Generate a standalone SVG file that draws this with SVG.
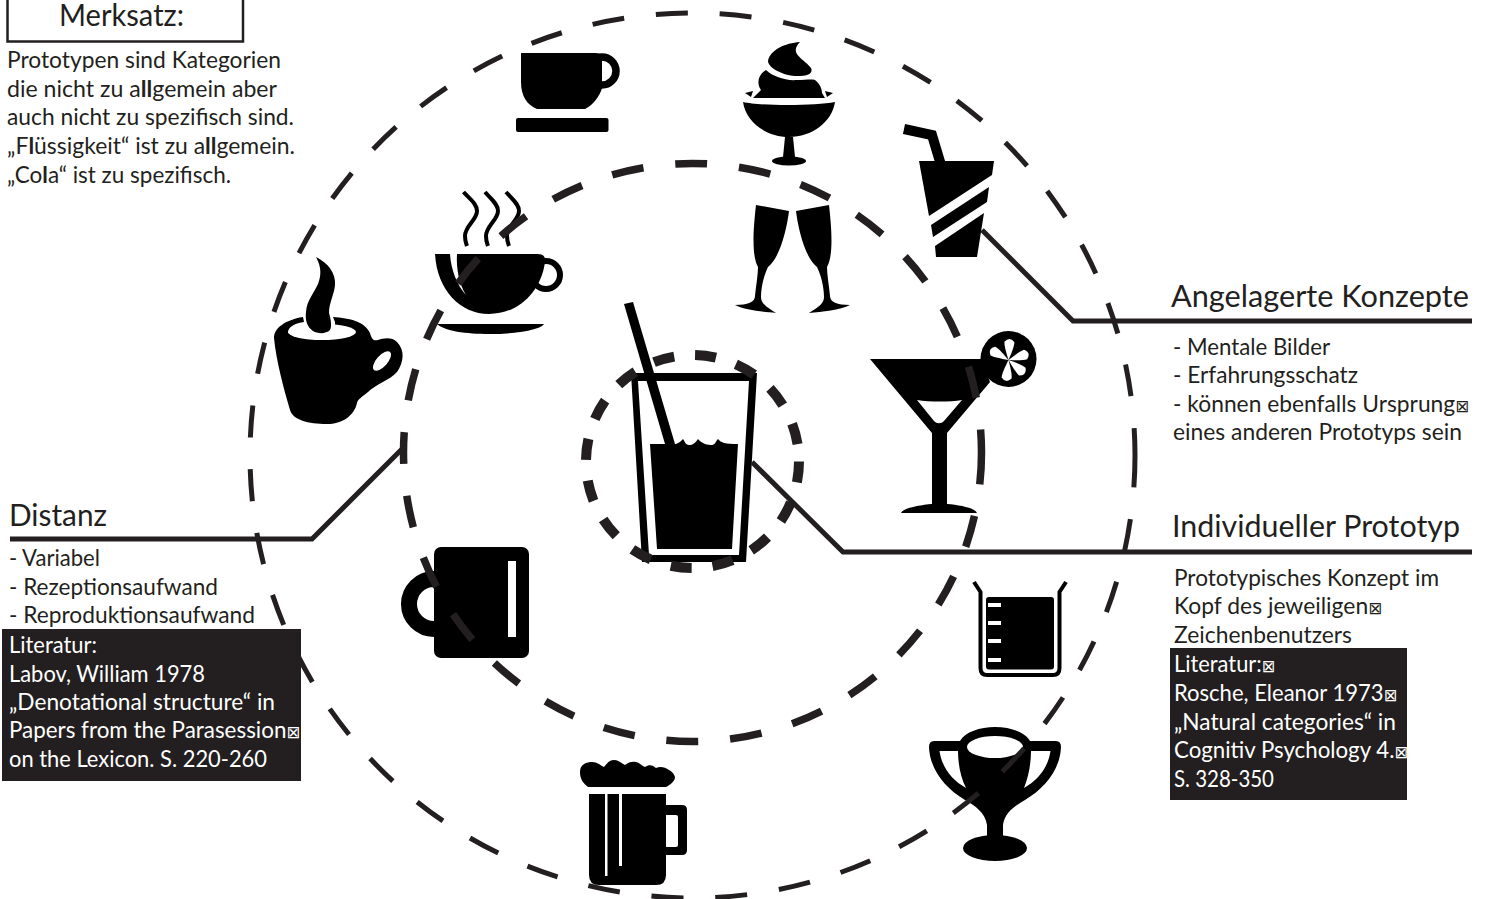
<svg xmlns="http://www.w3.org/2000/svg" width="1488" height="899" viewBox="0 0 1488 899">
<style>
text{font-family:"Lato","Open Sans","DejaVu Sans",sans-serif;fill:#231f20}
.b{font-size:23.5px}
.h{font-size:31px}
.w{font-size:23.5px;fill:#fff}
.t{font-family:"DejaVu Sans",sans-serif;font-size:17px}
.l{font-weight:700}
.k{fill:#000}
.wf{fill:#fff}
.lead{fill:none;stroke:#231f20;stroke-width:5;stroke-linejoin:miter}
.ring{fill:none;stroke:#231f20}
.box{fill:#231f20}
</style>
<rect width="1488" height="899" fill="#fff"/>

<g id="note">
<rect x="7.500" y="-10" width="235.500" height="51.500" fill="#fff" stroke="#231f20" stroke-width="2.500"/>
<text class="h" x="59" y="26" textLength="125" lengthAdjust="spacingAndGlyphs">Merksatz:</text>
<text class="b" x="7" y="68" textLength="274" lengthAdjust="spacingAndGlyphs">Prototypen sind Kategorien</text>
<text class="b" x="7" y="96.500" textLength="270" lengthAdjust="spacingAndGlyphs">die nicht zu a<tspan class="l">ll</tspan>gemein aber</text>
<text class="b" x="7" y="125" textLength="287" lengthAdjust="spacingAndGlyphs">auch nicht zu spezifisch sind.</text>
<text class="b" x="7" y="154" textLength="288" lengthAdjust="spacingAndGlyphs">„F<tspan class="l">l</tspan>üssigkeit“ ist zu a<tspan class="l">ll</tspan>gemein.</text>
<text class="b" x="7" y="182.500" textLength="224" lengthAdjust="spacingAndGlyphs">„Co<tspan class="l">l</tspan>a“ ist zu spezifisch.</text>
</g>

<g id="cup-saucer">
<circle cx="602" cy="71" r="14" fill="none" stroke="#000" stroke-width="7.500"/>
<path class="k" d="M521 53H596Q602 53 602 59V88C600 96 593 105 585 109H537C527 105 521 96 521 82Z"/>
<rect class="k" x="516" y="118" width="92.500" height="14" rx="2"/>
</g>

<g id="ice-cream">
<path class="k" d="M800 42C785 43 770 50 768 61C768 68 785 77 800 76C810 76 813 72 811 68C805 60 794 56 796 48C797 45 799 43 800 42Z"/>
<path class="k" d="M766 70C772 76 785 81 797 80C805 80 812 79 815 80C821 85 822 90 822 93L825 98H753L761 90C757 85 757 75 766 70Z"/>
<path class="k" d="M745 93L753 91L751 97ZM833 93L825 91L827 97Z"/>
<path class="k" d="M743 102C760 106 815 106 835 102C832 122 812 137 789 137C766 137 746 122 743 102Z"/>
<path class="k" d="M785 137H793L795 157H783Z"/>
<ellipse class="k" cx="789" cy="161" rx="17" ry="4.500"/>
</g>

<g id="straw-cup">
<path d="M904 129L932 135L941 165" fill="none" stroke="#000" stroke-width="10"/>
<path class="k" d="M919 161H994L992 175L929 216Z"/>
<path class="k" d="M989 187L987 202L933 237L931 225Z"/>
<path class="k" d="M984 213L977 257H936L935 246Z"/>
</g>

<g id="steam-cup">
<g fill="none" stroke="#000" stroke-width="4">
<path d="M463.500 192C470 199 477 204 477 211C477 220 465 226 465 236C465 241 466 243 467 246"/>
<path d="M485 192C491 199 498 204 498 211C498 220 486 226 486 236C486 241 487 243 488 246"/>
<path d="M506 192C512 199 519 204 519 211C519 220 507 226 507 236C507 241 508 243 509 246"/>
</g>
<circle cx="546" cy="275" r="14" fill="none" stroke="#000" stroke-width="6"/>
<path class="k" d="M435 254H538Q546 254 545 262C541 292 518 314 489 314C460 314 437 290 435 254Z"/>
<path class="wf" d="M450 254H457C456 268 459 284 466 295C457 285 451 270 450 254Z"/>
<path class="k" d="M437 324H544C540 330 515 334 490 334C465 334 445 331 437 324Z"/>
</g>

<g id="espresso-cup">
<path class="k" d="M274 338C274 328 285 320 303 317L304 322C292 324 288 328 288 333L335 335V322L333 317C350 318 365 322 370 333C372 340 374 341 378 340C384 338 392 337 397 342C405 350 404 362 397 372C390 380 376 384 368 392C362 397 358 399 357 403C354 416 342 424 327 424C308 424 293 420 290 410C284 390 276 360 274 338Z"/>
<ellipse class="wf" cx="322" cy="332" rx="34" ry="8"/>
<ellipse class="wf" cx="382" cy="361" rx="12" ry="5.500" transform="rotate(-48 382 361)"/>
<path class="k" d="M316 257C328 263 336 273 335 285C334 295 329 303 329 313C331 320 332 326 330 330C326 334 318 334 313 331C307 327 305 320 306 312C307 300 313 295 318 284C321 276 322 268 316 257Z"/>
</g>

<g id="champagne">
<path class="k" d="M756 205L789 211C787 228 780 258 768 267C764 275 761 287 761 297C761 303 765 306 776 313C763 312 745 310 735 305C748 305 755 302 755 296C756 285 758 275 758 267C753 258 752 240 756 205Z"/>
<path class="k" d="M829 205L796 211C798 228 805 258 817 267C821 275 824 287 824 297C824 303 820 306 809 313C822 312 840 310 850 305C837 305 830 302 830 296C829 285 827 275 827 267C832 258 833 240 829 205Z"/>
</g>

<g id="martini">
<path class="k" d="M870 359H982L990 382L947 433V504C960 505 975 508 977 513H901C903 508 920 505 932 504V433Z"/>
<path class="wf" d="M917 400C930 402 950 402 962 400L944 421C941 424 937 424 934 421Z"/>
<circle class="k" cx="1008.500" cy="359" r="28"/>
<g class="wf" transform="translate(1008.500 360)">
<path d="M0 0C-3 -8 -5 -14 -5 -18Q0 -24 5 -18C5 -14 3 -8 0 0Z" transform="rotate(3)"/>
<path d="M0 0C-3 -8 -5 -14 -5 -18Q0 -24 5 -18C5 -14 3 -8 0 0Z" transform="rotate(72)"/>
<path d="M0 0C-3 -8 -5 -14 -5 -18Q0 -24 5 -18C5 -14 3 -8 0 0Z" transform="rotate(130)"/>
<path d="M0 0C-3 -8 -5 -14 -5 -18Q0 -24 5 -18C5 -14 3 -8 0 0Z" transform="rotate(186)"/>
<path d="M0 0C-3 -8 -5 -14 -5 -18Q0 -24 5 -18C5 -14 3 -8 0 0Z" transform="rotate(300)"/>
</g>
</g>

<g id="glass">
<path class="k" fill-rule="evenodd" d="M631 373H757L746 562H642ZM638 381L649 555H739L749 381Z"/>
<path class="k" d="M650 444H676C679 443 681 441 683 439C685 442 686 445 689 445C693 445 695 443 698 439C702 444 708 445 712 445C715 445 716 441 718 439C721 443 725 444 738 444L732 549H657Z"/>
<path class="k" d="M624 304L633 302L675 444H665Z"/>
</g>

<g id="mug">
<circle cx="434" cy="604" r="25" fill="none" stroke="#000" stroke-width="16"/>
<rect class="k" x="434" y="547" width="95" height="111" rx="7"/>
<rect class="wf" x="508" y="561" width="8" height="76"/>
</g>

<g id="beaker">
<path d="M974 582L980.500 592V668Q980.500 675 987 675H1053Q1059.500 675 1059.500 668V592L1066 582" fill="none" stroke="#000" stroke-width="4"/>
<rect class="k" x="986" y="597" width="68" height="72.500" rx="3"/>
<g class="wf"><rect x="988" y="603" width="13" height="4"/><rect x="988" y="621" width="13" height="4"/><rect x="988" y="639" width="13" height="4"/><rect x="988" y="658" width="13" height="4"/></g>
</g>

<g id="beer">
<path class="k" d="M588 787C582 782 580 778 580 772C580 764 587 762 592 762C597 762 600 765 604 767C607 763 610 760 614 760C618 760 621 763 625 765C629 762 632 761 636 762C640 763 642 766 645 767C649 764 653 765 656 768C660 766 665 767 669 770C674 773 675 776 675 778C674 782 670 785 666 787Z"/>
<path class="k" d="M666 805H682Q687 805 687 810V850Q687 855 682 855H666V847H676Q678 847 678 845V817Q678 815 676 815H666Z"/>
<path class="k" d="M589 794H605V876H607.500V794H619V866H622V794H666V875Q666 885 656 885H599Q589 885 589 875Z"/>
</g>

<g id="trophy">
<path class="k" d="M995 727C980 727 965 732 960 741H934Q929 741 929 747C930 770 945 788 965 800C975 806 985 812 987 825V837H1003V825C1005 812 1015 806 1025 800C1045 788 1060 770 1061 747Q1061 741 1056 741H1030C1025 732 1010 727 995 727Z"/>
<ellipse class="k" cx="995" cy="848" rx="32" ry="13"/>
<ellipse class="wf" cx="995" cy="747" rx="28" ry="11"/>
<path class="wf" d="M939.500 751H958C958 765 961 778 966 788C952 780 942 768 939.500 751Z"/>
<path class="wf" d="M1050.500 751H1031C1031 765 1028 778 1024 788C1038 780 1048 768 1050.500 751Z"/>
</g>

<g id="connectors">
<path class="lead" d="M752 462L843 552H1472"/>
<path class="lead" d="M982 230L1073 321H1472"/>
<path class="lead" d="M404 447L312 539H10"/>
<circle class="ring" cx="692.500" cy="455.500" r="442.500" stroke-width="5" stroke-dasharray="32 32"/>
<circle class="ring" cx="692.500" cy="452.500" r="289" stroke-width="7.500" stroke-dasharray="32 32"/>
<circle class="ring" cx="692.500" cy="461.500" r="106.500" stroke-width="10" stroke-dasharray="21 21"/>
</g>

<g id="distanz">
<text class="h" x="9" y="526" textLength="98" lengthAdjust="spacingAndGlyphs">Distanz</text>
<text class="b" x="9" y="566" textLength="91" lengthAdjust="spacingAndGlyphs">- Variabel</text>
<text class="b" x="9" y="594.500" textLength="209" lengthAdjust="spacingAndGlyphs">- Rezeptionsaufwand</text>
<text class="b" x="9" y="623" textLength="246" lengthAdjust="spacingAndGlyphs">- Reproduktionsaufwand</text>
<rect class="box" x="2" y="629" width="299" height="152"/>
<text class="w" x="9" y="653" textLength="88" lengthAdjust="spacingAndGlyphs">Literatur:</text>
<text class="w" x="9" y="681.500" textLength="196" lengthAdjust="spacingAndGlyphs">Labov, William 1978</text>
<text class="w" x="9" y="709.500" textLength="266" lengthAdjust="spacingAndGlyphs">„Denotational structure“ in</text>
<text class="w" x="9" y="738" textLength="291" lengthAdjust="spacingAndGlyphs">Papers from the Parasession<tspan class="t">⊠</tspan></text>
<text class="w" x="9" y="766.500" textLength="258" lengthAdjust="spacingAndGlyphs">on the Lexicon. S. 220-260</text>
</g>

<g id="angelagerte">
<text class="h" x="1171" y="307" textLength="298" lengthAdjust="spacingAndGlyphs">Angelagerte Konzepte</text>
<text class="b" x="1173" y="355" textLength="157" lengthAdjust="spacingAndGlyphs">- Mentale Bilder</text>
<text class="b" x="1173" y="383" textLength="185" lengthAdjust="spacingAndGlyphs">- Erfahrungsschatz</text>
<text class="b" x="1173" y="412" textLength="296" lengthAdjust="spacingAndGlyphs">- können ebenfalls Ursprung<tspan class="t">⊠</tspan></text>
<text class="b" x="1173" y="440" textLength="289" lengthAdjust="spacingAndGlyphs">eines anderen Prototyps sein</text>
</g>

<g id="individuell">
<text class="h" x="1172" y="536.500" textLength="288" lengthAdjust="spacingAndGlyphs">Individueller Prototyp</text>
<text class="b" x="1174" y="586" textLength="265" lengthAdjust="spacingAndGlyphs">Prototypisches Konzept im</text>
<text class="b" x="1174" y="614" textLength="208" lengthAdjust="spacingAndGlyphs">Kopf des jeweiligen<tspan class="t">⊠</tspan></text>
<text class="b" x="1174" y="642.500" textLength="178" lengthAdjust="spacingAndGlyphs">Zeichenbenutzers</text>
<rect class="box" x="1170" y="648" width="237" height="152"/>
<text class="w" x="1174" y="672" textLength="101" lengthAdjust="spacingAndGlyphs">Literatur:<tspan class="t">⊠</tspan></text>
<text class="w" x="1174" y="701" textLength="223" lengthAdjust="spacingAndGlyphs">Rosche, Eleanor 1973<tspan class="t">⊠</tspan></text>
<text class="w" x="1174" y="730" textLength="222" lengthAdjust="spacingAndGlyphs">„Natural categories“ in</text>
<text class="w" x="1174" y="758" textLength="234" lengthAdjust="spacingAndGlyphs">Cognitiv Psychology 4.<tspan class="t">⊠</tspan></text>
<text class="w" x="1174" y="787" textLength="100" lengthAdjust="spacingAndGlyphs">S. 328-350</text>
</g>
</svg>
